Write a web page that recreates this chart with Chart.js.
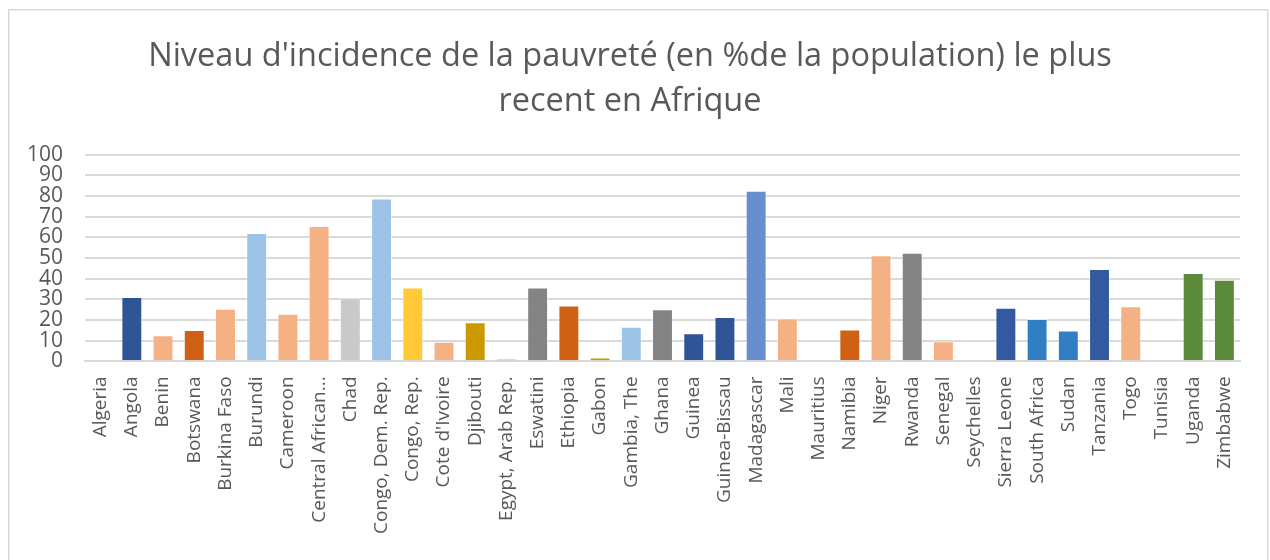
<!DOCTYPE html>
<html>
<head>
<meta charset="utf-8">
<script src="https://cdn.jsdelivr.net/npm/chart.js@4.4.1/dist/chart.umd.min.js"></script>
<style>
  html, body { margin: 0; padding: 0; background: #fff; }
  #wrap { position: relative; width: 1270px; height: 560px; }
</style>
</head>
<body>
<div id="wrap"><canvas id="chart" width="1270" height="560"></canvas></div>
<script>
const titleLines = ["Niveau d'incidence de la pauvreté (en %de la population) le plus", "recent en Afrique"];

const countries = [
  'Algeria', 'Angola', 'Benin', 'Botswana', 'Burkina Faso', 'Burundi', 'Cameroon',
  'Central African...', 'Chad', 'Congo, Dem. Rep.', 'Congo, Rep.', "Cote d'Ivoire",
  'Djibouti', 'Egypt, Arab Rep.', 'Eswatini', 'Ethiopia', 'Gabon', 'Gambia, The',
  'Ghana', 'Guinea', 'Guinea-Bissau', 'Madagascar', 'Mali', 'Mauritius', 'Namibia',
  'Niger', 'Rwanda', 'Senegal', 'Seychelles', 'Sierra Leone', 'South Africa', 'Sudan',
  'Tanzania', 'Togo', 'Tunisia', 'Uganda', 'Zimbabwe'
];

const povertyRate = [
  0.4, 31.1, 12.6, 15.2, 25.4, 62.1, 23.0,
  65.5, 30.6, 78.8, 35.8, 9.5,
  18.9, 1.1, 35.8, 27.0, 1.9, 16.8,
  25.2, 13.6, 21.5, 82.5, 20.7, 0, 15.4,
  51.3, 52.6, 9.7, 0, 25.9, 20.5, 14.9,
  44.7, 26.7, 0, 42.7, 39.5
];

const barColors = [
  '#FFE699', '#2F5597', '#F4B183', '#D06014', '#F4B183', '#9DC3E6', '#F4B183',
  '#F4B183', '#C9C9C9', '#9DC3E6', '#FFC937', '#F4B183',
  '#CC9900', '#548235', '#848484', '#D06014', '#CC9900', '#9DC3E6',
  '#848484', '#2F5597', '#2F5597', '#698ED0', '#F4B183', '#F4B183', '#D06014',
  '#F4B183', '#848484', '#F4B183', '#F4B183', '#335AA1', '#327EC2', '#327EC2',
  '#335AA1', '#F4B183', '#F4B183', '#5B8A3A', '#5B8A3A'
];

const yTicks = [0, 10, 20, 30, 40, 50, 60, 70, 80, 90, 100];

// outer frame like the spreadsheet chart area
const framePlugin = {
  id: 'frame',
  beforeDraw(chart) {
    const c = chart.ctx;
    c.save();
    c.fillStyle = '#fff';
    c.fillRect(0, 0, chart.width, chart.height);
    c.strokeStyle = '#d9d9d9';
    c.lineWidth = 1.5;
    c.strokeRect(8.75, 9.75, 1259, 600);
    c.restore();
  }
};

new Chart(document.getElementById('chart'), {
  type: 'bar',
  data: {
    labels: countries,
    datasets: [{
      data: povertyRate,
      backgroundColor: barColors,
      borderColor: 'rgba(255,255,255,0.5)',
      borderWidth: 1,
      categoryPercentage: 1,
      barPercentage: 0.67
    }]
  },
  options: {
    responsive: false,
    animation: false,
    layout: { padding: { left: 20, right: 30, top: 0, bottom: 11 } },
    plugins: {
      legend: { display: false },
      tooltip: { enabled: false },
      title: {
        display: true,
        text: titleLines,
        color: '#595959',
        font: { family: 'Open Sans', size: 32.5, weight: 'normal', lineHeight: 1.38 },
        padding: { top: 34, bottom: 31 }
      }
    },
    scales: {
      x: {
        grid: { display: false, drawTicks: false },
        border: { display: true, color: '#d9d9d9', width: 2 },
        ticks: {
          color: '#595959',
          font: { family: 'Open Sans', size: 19 },
          minRotation: 90,
          maxRotation: 90,
          autoSkip: false,
          padding: 15
        }
      },
      y: {
        min: 0,
        max: 100,
        afterBuildTicks(axis) { axis.ticks = yTicks.map(v => ({ value: v })); },
        afterFit(axis) { axis.width = 65; },
        grid: { color: '#d9d9d9', lineWidth: 2, drawTicks: false },
        border: { display: false },
        ticks: {
          color: '#595959',
          font: { family: 'Open Sans', size: 21 },
          autoSkip: false,
          padding: 22
        }
      }
    }
  },
  plugins: [framePlugin]
});
</script>
</body>
</html>
